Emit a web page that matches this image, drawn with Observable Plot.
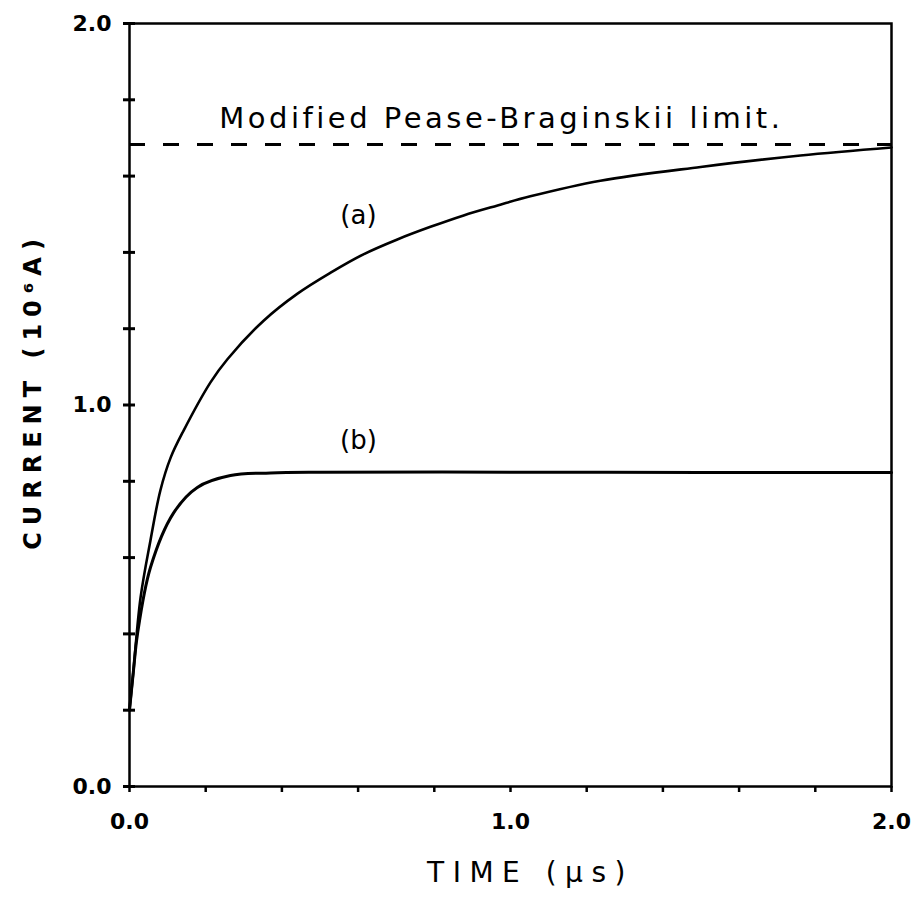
<!DOCTYPE html>
<html>
<head>
<meta charset="utf-8">
<script src="https://cdn.jsdelivr.net/npm/d3@7"></script>
<script src="https://cdn.jsdelivr.net/npm/@observablehq/plot@0.6"></script>
<style>
  html, body { margin: 0; padding: 0; background: #fff; }
  #chart { width: 921px; height: 899px; }
</style>
</head>
<body>
<div id="chart"></div>
<script>
// ---- data ----
const timeA = [0, 0.01, 0.029, 0.055, 0.081, 0.108, 0.142, 0.213, 0.257, 0.352, 0.441, 0.528, 0.614, 0.703, 0.790, 0.877, 0.966, 1.052, 1.236, 1.499, 1.761, 2.0];
const currentA = [0.2, 0.30, 0.495, 0.645, 0.776, 0.862, 0.933, 1.060, 1.120, 1.221, 1.292, 1.347, 1.395, 1.434, 1.467, 1.497, 1.523, 1.547, 1.588, 1.624, 1.654, 1.675];
const timeB = [0, 0.01, 0.021, 0.055, 0.115, 0.178, 0.265, 0.37, 0.5, 1.0, 1.5, 2.0];
const currentB = [0.2, 0.30, 0.40, 0.574, 0.716, 0.784, 0.815, 0.822, 0.824, 0.824, 0.823, 0.823];
const limitValue = 1.683;
const limitLabel = "Modified Pease-Braginskii limit.";
const limitLabelPos = {t: 0.976, v: 1.75};
const curveLabels = [
  {name: "(a)", t: 0.601, v: 1.497},
  {name: "(b)", t: 0.601, v: 0.907}
];
const xTicks = [0, 0.2, 0.4, 0.6, 0.8, 1.0, 1.2, 1.4, 1.6, 1.8, 2.0];
const yTicks = [0, 0.2, 0.4, 0.6, 0.8, 1.0, 1.2, 1.4, 1.6, 1.8, 2.0];
const xTickLabels = [0, 1, 2];
const yTickLabels = [0, 1, 2];
const xTitle = "TIME (\u00B5s)";
const yTitle = "CURRENT (10\u2076A)";

const seriesA = timeA.map((t, i) => ({t, v: currentA[i]}));
const seriesB = timeB.map((t, i) => ({t, v: currentB[i]}));

const chart = Plot.plot({
  width: 921,
  height: 899,
  marginLeft: 129,
  marginRight: 30,
  marginTop: 23,
  marginBottom: 113,
  x: {domain: [0, 2]},
  y: {domain: [0, 2]},
  style: {fontFamily: "'DejaVu Sans', sans-serif", background: "white", color: "black"},
  marks: [
    Plot.frame({stroke: "black", strokeWidth: 2.5}),
    Plot.axisX({ticks: xTicks, tickSize: 6, tickFormat: () => "", label: null, strokeWidth: 2.5}),
    Plot.axisX({ticks: xTickLabels, tickSize: 0, tickPadding: 27, tickFormat: d3.format(".1f"), label: null, fontSize: 22, fontWeight: "bold"}),
    Plot.axisY({ticks: yTicks, tickSize: 12, dx: 6, tickFormat: () => "", label: null, strokeWidth: 3}),
    Plot.axisY({ticks: yTickLabels, tickSize: 0, tickPadding: 18, tickFormat: d3.format(".1f"), label: null, fontSize: 22, fontWeight: "bold"}),
    Plot.ruleY([limitValue], {stroke: "black", strokeWidth: 3, strokeDasharray: "16,18"}),
    Plot.line(seriesA, {x: "t", y: "v", stroke: "black", strokeWidth: 2.6, curve: "catmull-rom"}),
    Plot.line(seriesB, {x: "t", y: "v", stroke: "black", strokeWidth: 3, curve: "catmull-rom"}),
    Plot.text(curveLabels, {x: "t", y: "v", text: "name", fontSize: 26, fill: "black"}),
    Plot.text([limitLabel], {x: () => limitLabelPos.t, y: () => limitLabelPos.v, text: d => d, fontSize: 29, fill: "black"}),
    Plot.text([xTitle], {frameAnchor: "bottom", lineAnchor: "middle", textAnchor: "middle", dy: 87, dx: 20, text: d => d, fontSize: 28, fill: "black"}),
    Plot.text([yTitle], {frameAnchor: "left", lineAnchor: "middle", textAnchor: "middle", dx: -96, dy: -14, rotate: -90, text: d => d, fontSize: 24, fontWeight: "bold", fill: "black"})
  ]
});
// widen hand-lettered texts via letter-spacing
const spacing = new Map([[limitLabel, "3.5px"], [xTitle, "8.5px"], [yTitle, "7px"]]);
d3.select(chart).selectAll("text").each(function () {
  const s = spacing.get(this.textContent);
  if (s) d3.select(this).style("letter-spacing", s);
});
document.getElementById("chart").appendChild(chart);
</script>
</body>
</html>
